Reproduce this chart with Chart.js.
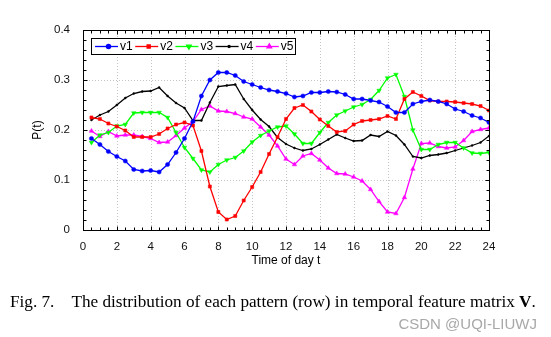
<!DOCTYPE html>
<html>
<head>
<meta charset="utf-8">
<script src="https://cdn.jsdelivr.net/npm/chart.js@4.4.1/dist/chart.umd.min.js"></script>
<style>
  html, body { margin: 0; padding: 0; background: #fff; }
  #wrap { position: relative; width: 551px; height: 337px; overflow: hidden; background: #fff; }
  #c { position: absolute; left: 0; top: 0; }
  #caption {
    position: absolute; left: 10px; top: 292px;
    font-family: "Liberation Serif", "Times New Roman", serif;
    font-size: 17.2px; color: #000; white-space: nowrap; line-height: 20px;
  }
  #mark {
    position: absolute; right: 14px; top: 315px;
    font-family: "Liberation Sans", Arial, sans-serif;
    font-size: 15px; color: #a8a8a8; white-space: nowrap; line-height: 18px;
  }
</style>
</head>
<body>
<div id="wrap">
  <canvas id="c" width="551" height="337"></canvas>
  <div id="caption">Fig. 7.<span style="display:inline-block;width:17px"></span>The distribution of each pattern (row) in temporal feature matrix <b>V</b>.</div>
  <div id="mark">CSDN @UQI-LIUWJ</div>
</div>
<script>
// Hour of day for each sample (half-hour slots)
const hours = [0.5, 1, 1.5, 2, 2.5, 3, 3.5, 4, 4.5, 5, 5.5, 6, 6.5, 7, 7.5, 8,
  8.5, 9, 9.5, 10, 10.5, 11, 11.5, 12, 12.5, 13, 13.5, 14, 14.5, 15, 15.5, 16,
  16.5, 17, 17.5, 18, 18.5, 19, 19.5, 20, 20.5, 21, 21.5, 22, 22.5, 23, 23.5, 24];

// P(t) for each pattern
const v1 = [0.183, 0.171, 0.157, 0.147, 0.138, 0.121, 0.118, 0.119, 0.116, 0.131,
  0.155, 0.183, 0.217, 0.268, 0.300, 0.315, 0.315, 0.309, 0.297, 0.291,
  0.285, 0.280, 0.277, 0.273, 0.266, 0.268, 0.275, 0.275, 0.277, 0.276,
  0.271, 0.262, 0.262, 0.259, 0.256, 0.247, 0.235, 0.235, 0.252, 0.257,
  0.260, 0.257, 0.252, 0.242, 0.237, 0.229, 0.224, 0.215];
const v2 = [0.225, 0.222, 0.213, 0.207, 0.199, 0.186, 0.186, 0.186, 0.192, 0.203,
  0.211, 0.215, 0.209, 0.158, 0.087, 0.036, 0.021, 0.028, 0.059, 0.086,
  0.116, 0.152, 0.186, 0.222, 0.244, 0.250, 0.237, 0.221, 0.208, 0.196,
  0.198, 0.211, 0.218, 0.220, 0.222, 0.228, 0.222, 0.262, 0.276, 0.268,
  0.259, 0.257, 0.257, 0.256, 0.254, 0.252, 0.248, 0.239];
const v3 = [0.175, 0.190, 0.195, 0.208, 0.211, 0.234, 0.235, 0.235, 0.235, 0.225,
  0.195, 0.165, 0.143, 0.120, 0.116, 0.131, 0.140, 0.145, 0.158, 0.176,
  0.189, 0.198, 0.206, 0.208, 0.192, 0.173, 0.173, 0.195, 0.215, 0.230,
  0.238, 0.246, 0.251, 0.261, 0.279, 0.304, 0.311, 0.267, 0.200, 0.161,
  0.161, 0.171, 0.175, 0.175, 0.164, 0.154, 0.153, 0.155];
const v4 = [0.220, 0.230, 0.237, 0.250, 0.264, 0.273, 0.277, 0.278, 0.285, 0.268,
  0.254, 0.244, 0.219, 0.219, 0.255, 0.287, 0.289, 0.291, 0.262, 0.240,
  0.221, 0.207, 0.185, 0.172, 0.164, 0.159, 0.162, 0.171, 0.181, 0.191,
  0.184, 0.178, 0.179, 0.190, 0.187, 0.197, 0.189, 0.171, 0.147, 0.144,
  0.149, 0.151, 0.154, 0.159, 0.164, 0.169, 0.175, 0.188];
const v5 = [0.198, 0.187, 0.197, 0.188, 0.190, 0.190, 0.187, 0.183, 0.175, 0.176,
  0.189, 0.204, 0.217, 0.241, 0.248, 0.238, 0.237, 0.233, 0.226, 0.222,
  0.206, 0.190, 0.168, 0.142, 0.131, 0.148, 0.153, 0.140, 0.124, 0.113,
  0.112, 0.106, 0.098, 0.081, 0.057, 0.036, 0.033, 0.065, 0.122, 0.173,
  0.174, 0.167, 0.164, 0.166, 0.179, 0.197, 0.201, 0.204];

const seriesNames = ['v1', 'v2', 'v3', 'v4', 'v5'];
const xTicks = [0, 2, 4, 6, 8, 10, 12, 14, 16, 18, 20, 22, 24];
const yTicks = [0, 0.1, 0.2, 0.3, 0.4];
const xTitle = 'Time of day t';
const yTitle = 'P(t)';

// Styling per series
const styles = [
  { color: '#0000ff', marker: 'circle',   r: 2.1, rot: 0 },
  { color: '#ff0000', marker: 'rect',     r: 2.2, rot: 0 },
  { color: '#00ff00', marker: 'triangle', r: 2.6, rot: 180 },
  { color: '#000000', marker: 'circle',   r: 1.0, rot: 0 },
  { color: '#ff00ff', marker: 'triangle', r: 2.6, rot: 0 }
];
const values = [v1, v2, v3, v4, v5];
const FONT = '"Liberation Sans", Arial, Helvetica, sans-serif';

const datasets = values.map((vals, i) => ({
  label: seriesNames[i],
  data: hours.map((h, k) => ({ x: h, y: vals[k] })),
  borderColor: styles[i].color,
  backgroundColor: styles[i].color,
  pointBackgroundColor: styles[i].color,
  pointBorderColor: styles[i].color,
  pointBorderWidth: 0.5,
  borderWidth: 1.3,
  pointStyle: styles[i].marker,
  pointRadius: styles[i].r,
  pointRotation: styles[i].rot,
  tension: 0
}));

// Axes frame, minor ticks, dotted grid, axis titles and legend box
const decorations = {
  id: 'decorations',
  beforeDatasetsDraw(chart) {
    const { ctx, chartArea: a, scales: { x, y } } = chart;
    ctx.save();
    ctx.strokeStyle = '#c4c4c4';
    ctx.lineWidth = 1;
    ctx.setLineDash([1, 2]);
    xTicks.forEach(t => {
      if (t <= 0 || t >= 24) return;
      const px = Math.round(x.getPixelForValue(t)) + 0.5;
      ctx.beginPath(); ctx.moveTo(px, a.top); ctx.lineTo(px, a.bottom); ctx.stroke();
    });
    yTicks.forEach(t => {
      if (t <= 0 || t >= 0.4) return;
      const py = Math.round(y.getPixelForValue(t)) + 0.5;
      ctx.beginPath(); ctx.moveTo(a.left, py); ctx.lineTo(a.right, py); ctx.stroke();
    });
    ctx.restore();
  },
  afterDatasetsDraw(chart) {
    const { ctx, chartArea: a, scales: { x, y } } = chart;
    ctx.save();
    ctx.strokeStyle = '#000';
    ctx.lineWidth = 1;
    const L = Math.round(a.left) + 0.5, R = Math.round(a.right) + 0.5;
    const T = Math.round(a.top) + 0.5, B = Math.round(a.bottom) + 0.5;
    ctx.strokeRect(L, T, R - L, B - T);
    ctx.beginPath();
    for (let t = 0.5; t < 24; t += 0.5) {
      const px = Math.round(x.getPixelForValue(t)) + 0.5;
      const len = (t % 2 === 0) ? 4 : 3;
      ctx.moveTo(px, B); ctx.lineTo(px, B - len);
      ctx.moveTo(px, T); ctx.lineTo(px, T + len);
    }
    for (let k = 1; k < 20; k++) {
      const v = k * 0.02;
      const py = Math.round(y.getPixelForValue(v)) + 0.5;
      const len = (k % 5 === 0) ? 4 : 3;
      ctx.moveTo(L, py); ctx.lineTo(L + len, py);
      ctx.moveTo(R, py); ctx.lineTo(R - len, py);
    }
    ctx.stroke();
    ctx.restore();
  },
  afterDraw(chart) {
    const { ctx, chartArea: a } = chart;
    ctx.save();
    ctx.fillStyle = '#000';
    ctx.font = '12px ' + FONT;
    ctx.textAlign = 'center';
    ctx.textBaseline = 'middle';
    ctx.fillText(xTitle, (a.left + a.right) / 2, 261);
    ctx.translate(38, (a.top + a.bottom) / 2);
    ctx.rotate(-Math.PI / 2);
    ctx.fillText(yTitle, 0, 0);
    ctx.restore();

    // legend
    ctx.save();
    const bx = 91.5, by = 38.5, bw = 204, bh = 16;
    ctx.fillStyle = '#fff';
    ctx.fillRect(bx, by, bw, bh);
    ctx.strokeStyle = '#000';
    ctx.lineWidth = 1;
    ctx.strokeRect(bx, by, bw, bh);
    const cy = by + bh / 2;
    ctx.font = '12px ' + FONT;
    ctx.textBaseline = 'middle';
    ctx.textAlign = 'left';
    chart.data.datasets.forEach((ds, i) => {
      const x0 = 95 + i * 40.2;
      ctx.strokeStyle = ds.borderColor;
      ctx.lineWidth = 1.3;
      ctx.beginPath(); ctx.moveTo(x0, cy); ctx.lineTo(x0 + 23, cy); ctx.stroke();
      ctx.fillStyle = ds.borderColor;
      Chart.helpers.drawPoint(ctx, {
        pointStyle: ds.pointStyle, radius: ds.pointRadius,
        rotation: ds.pointRotation, borderWidth: 0.5
      }, x0 + 13.5, cy);
      ctx.fillStyle = '#000';
      ctx.fillText(ds.label, x0 + 25, cy + 0.5);
    });
    ctx.restore();
  }
};

new Chart(document.getElementById('c'), {
  type: 'line',
  data: { datasets },
  options: {
    responsive: false,
    animation: false,
    devicePixelRatio: 1,
    layout: { padding: { left: 0, top: 30, right: 62, bottom: 0 } },
    plugins: { legend: { display: false }, tooltip: { enabled: false } },
    scales: {
      x: {
        type: 'linear', min: 0, max: 24,
        afterFit(s) { s.height = 107; },
        afterBuildTicks(s) { s.ticks = xTicks.map(v => ({ value: v })); },
        ticks: { color: '#111', font: { family: FONT, size: 11.5 }, padding: 2, maxRotation: 0, autoSkip: false },
        grid: { display: false },
        border: { display: false }
      },
      y: {
        type: 'linear', min: 0, max: 0.4,
        afterFit(s) { s.width = 83; },
        afterBuildTicks(s) { s.ticks = yTicks.map(v => ({ value: v })); },
        ticks: {
          color: '#111', font: { family: FONT, size: 11.5 }, padding: 5,
          callback: v => (v === 0 ? '0' : Number(v).toFixed(1))
        },
        grid: { display: false },
        border: { display: false }
      }
    }
  },
  plugins: [decorations]
});
</script>
</body>
</html>
